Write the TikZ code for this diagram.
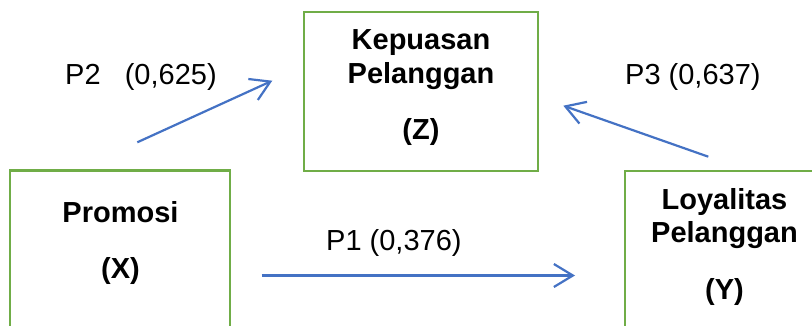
\documentclass[tikz,border=0pt]{standalone}
\usepackage{fontspec}
\setmainfont{Liberation Sans}
\usetikzlibrary{arrows.meta}
\definecolor{boxgreen}{RGB}{112,173,71}
\definecolor{pathblue}{RGB}{68,114,196}
\tikzset{
	varbox/.style={draw=boxgreen, line width=2.5pt, rectangle, inner sep=0pt},
	varname/.style={font=\fontsize{29}{34}\selectfont\bfseries, inner sep=0pt, anchor=base},
	coefname/.style={font=\fontsize{29}{34}\selectfont, inner sep=0pt, anchor=base west},
	patharrow/.style={draw=pathblue, line width=2.2pt, -{Straight Barb[length=19pt, width=23pt]}}
}
\begin{document}
\begin{tikzpicture}[x=1pt, y=-1pt]
			%%%%% START %%%%%
			\useasboundingbox (0,0) rectangle (812,326);
			\clip (0,0) rectangle (812,326);
			
			\node[varbox, minimum width=234pt, minimum height=159pt] (zbox) at (421, 91.5) {};
			\node[varbox, minimum width=220pt, minimum height=210pt] (xbox) at (120, 275.7) {};
			\node[varbox, minimum width=199pt, minimum height=209pt] (ybox) at (724.5, 275.7) {};
			
			\node[varname] (zname1) at (421, 50) {Kepuasan};
			\node[varname] (zname2) at (421, 83.3) {Pelanggan};
			\node[varname] (zsym) at (421, 140) {(Z)};
			
			\node[varname] (xname) at (120.5, 222.7) {Promosi};
			\node[varname] (xsym) at (120.5, 278) {(X)};
			
			\node[varname] (yname1) at (724.5, 209.3) {Loyalitas};
			\node[varname] (yname2) at (724.5, 242.7) {Pelanggan};
			\node[varname] (ysym) at (724.5, 299.3) {(Y)};
			
			\node[coefname] (p2lbl) at (65, 85) {P2\ \ \ (0,625)};
			\node[coefname] (p3lbl) at (625, 85) {P3 (0,637)};
			\node[coefname] (p1lbl) at (326, 250.7) {P1 (0,376)};
			
			\coordinate (p2from) at (137.3, 142.3);
			\coordinate (p2to) at (272.3, 80.7);
			\coordinate (p3from) at (708.3, 156.7);
			\coordinate (p3to) at (563.3, 105.7);
			\coordinate (p1from) at (261.7, 275.5);
			\coordinate (p1to) at (575, 275.5);
			
			\draw[patharrow] (p2from) -- (p2to);
			\draw[patharrow] (p3from) -- (p3to);
			\draw[patharrow] (p1from) -- (p1to);
			
			%%%%% END %%%%%
\end{tikzpicture}
\end{document}
